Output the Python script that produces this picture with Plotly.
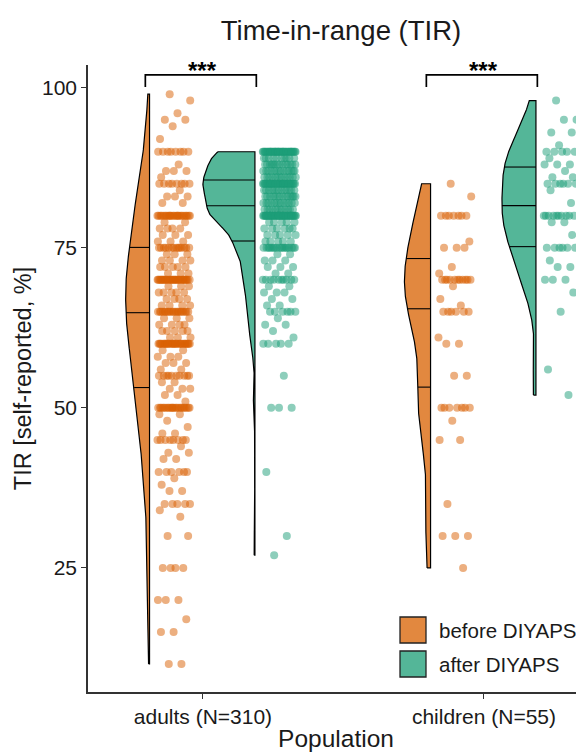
import numpy as np
import plotly.graph_objects as go

# ---------------- data ----------------
groups = ["adults (N=310)", "children (N=55)"]
conditions = ["before DIYAPS", "after DIYAPS"]

adults_before_values = [99, 98, 96, 95, 94, 92, 90, 88, 87, 86, 85, 84, 83, 82, 80, 79, 78, 77, 76, 75,
                        74, 73, 72, 71, 70, 69, 68, 67, 66, 65, 64, 63, 62, 61, 60, 59, 58, 57, 56, 55,
                        54, 53, 52, 51, 50, 49, 48, 47, 46, 45, 44, 43, 42, 40, 39, 38, 37, 35, 34, 33,
                        30, 25, 20, 17, 15, 10]
adults_before_counts = [1, 1, 1, 2, 1, 1, 8, 1, 3, 1, 8, 1, 3, 2, 24, 2, 4, 3, 3, 14,
                        3, 4, 5, 3, 31, 3, 5, 4, 4, 20, 3, 4, 5, 3, 29, 2, 3, 3, 2, 10,
                        2, 3, 2, 1, 22, 2, 1, 1, 2, 8, 1, 2, 2, 6, 1, 1, 2, 5, 1, 1,
                        2, 4, 3, 1, 2, 2]

adults_after_values = [90, 89, 88, 87, 86, 85, 84, 83, 82, 81, 80, 79, 78, 77, 76, 75, 74, 73, 72, 71,
                       70, 69, 68, 67, 66, 65, 64, 63, 62, 61, 60, 55, 50, 40, 30, 27]
adults_after_counts = [40, 10, 14, 14, 13, 36, 13, 14, 13, 12, 40, 5, 6, 5, 5, 18, 2, 3, 3, 2,
                       10, 2, 3, 2, 2, 6, 1, 2, 1, 1, 5, 1, 3, 1, 1, 1]

children_before_values = [85, 83, 80, 76, 75, 72, 71, 70, 69, 67, 66, 65, 61, 60, 55, 50, 48, 45, 35, 30, 25]
children_before_counts = [1, 1, 7, 1, 3, 1, 1, 11, 1, 1, 1, 6, 1, 2, 2, 7, 1, 2, 1, 3, 1]

children_after_values = [98, 95, 93, 91, 90, 89, 88, 87, 86, 85, 84, 82, 80, 79, 77, 75, 73, 72, 70, 68, 65, 56, 52]
children_after_counts = [1, 2, 2, 1, 5, 1, 3, 1, 2, 6, 1, 1, 10, 2, 1, 6, 1, 2, 3, 1, 1, 1, 1]

y_ticks = [25, 50, 75, 100]
significance = ["***", "***"]

# ---------------- style ----------------
OFF = 8                      # page body margin of the browser
W, H = 584 - OFF, 753 - OFF
L, R, T, B = 88 - OFF, 0, 65 - OFF, 753 - 692
X_RANGE = [0.591, 2.356]
Y_RANGE = [5.625, 103.55]
FONT = "Liberation Sans, Arial, Helvetica, sans-serif"
TXT = "#1a1a1a"
AX = "#333333"
fill_cols = {"before DIYAPS": "#E2883F", "after DIYAPS": "#54B698"}
pt_cols = {"before DIYAPS": "rgba(217,95,2,0.5)", "after DIYAPS": "rgba(27,158,119,0.5)"}
edge_off = {"before DIYAPS": -0.19, "after DIYAPS": 0.185}
half_w = {("adults (N=310)", "before DIYAPS"): 0.085, ("adults (N=310)", "after DIYAPS"): 0.185,
          ("children (N=55)", "before DIYAPS"): 0.093, ("children (N=55)", "after DIYAPS"): 0.121}

data = {
    ("adults (N=310)", "before DIYAPS"): np.repeat(adults_before_values, adults_before_counts).astype(float),
    ("adults (N=310)", "after DIYAPS"): np.repeat(adults_after_values, adults_after_counts).astype(float),
    ("children (N=55)", "before DIYAPS"): np.repeat(children_before_values, children_before_counts).astype(float),
    ("children (N=55)", "after DIYAPS"): np.repeat(children_after_values, children_after_counts).astype(float),
}


def kde(vals, n=512):
    vals = np.asarray(vals)
    sd = vals.std(ddof=1)
    iqr = np.subtract(*np.percentile(vals, [75, 25]))
    lo = min(sd, iqr / 1.34) if iqr > 0 else sd
    bw = 0.9 * lo * len(vals) ** (-0.2)
    grid = np.linspace(vals.min(), vals.max(), n)
    d = np.exp(-0.5 * ((grid[:, None] - vals[None, :]) / bw) ** 2).sum(axis=1)
    d /= len(vals) * bw * np.sqrt(2 * np.pi)
    return grid, d


fig = go.Figure()
golden = 0.6180339887

for gi, g in enumerate(groups):
    c = gi + 1
    for cond in conditions:
        vals = data[(g, cond)]
        edge = c + edge_off[cond]
        grid, d = kde(vals)
        w = half_w[(g, cond)] * d / d.max()
        xs = np.concatenate([edge - w, [edge, edge], [edge - w[0]]])
        ys = np.concatenate([grid, [grid[-1], grid[0]], [grid[0]]])
        fig.add_trace(go.Scatter(x=xs, y=ys, mode="lines", fill="toself",
                                 fillcolor=fill_cols[cond],
                                 line=dict(color="black", width=1.2),
                                 hoverinfo="skip", showlegend=False))
        ecdf = np.cumsum(d) / d.sum()
        qx, qy = [], []
        for p in (0.25, 0.5, 0.75):
            q = np.interp(p, ecdf, grid)
            wq = np.interp(q, grid, w)
            qx += [edge - wq, edge, None]
            qy += [q, q, None]
        fig.add_trace(go.Scatter(x=qx, y=qy, mode="lines",
                                 line=dict(color="black", width=1.1),
                                 hoverinfo="skip", showlegend=False))
        idx = np.arange(len(vals))
        u = (idx * golden + 0.37) % 1.0
        px = edge + 0.028 + 0.118 * u
        fig.add_trace(go.Scatter(x=px, y=vals, mode="markers",
                                 marker=dict(size=8, color=pt_cols[cond], line=dict(width=0)),
                                 hoverinfo="skip", showlegend=False))

    xl, xr = c - 0.205, c + 0.19
    fig.add_trace(go.Scatter(x=[xl, xl, xr, xr], y=[100.1, 102, 102, 100.1], mode="lines",
                             line=dict(color="black", width=1.7), hoverinfo="skip",
                             showlegend=False, cliponaxis=False))
    fig.add_annotation(x=c, y=102.7, text="<b>" + significance[gi] + "</b>", showarrow=False,
                       font=dict(size=24, color="black", family=FONT), yanchor="middle")


def pxx(p):  # screen px -> paper x
    return (p - OFF - L) / (W - L - R)


def pxy(p):  # screen px -> paper y
    return (H - B - (p - OFF)) / (H - T - B)


for i, cond in enumerate(conditions):
    top = 617 + i * 34
    fig.add_shape(type="rect", xref="paper", yref="paper",
                  x0=pxx(400), x1=pxx(426), y0=pxy(top + 26), y1=pxy(top),
                  fillcolor=fill_cols[cond], line=dict(color="#222222", width=1.3))
    fig.add_annotation(xref="paper", yref="paper", x=pxx(437), y=pxy(top + 13),
                       text=cond, showarrow=False, xanchor="left", yanchor="middle",
                       font=dict(size=20.5, color=TXT, family=FONT))

fig.update_layout(
    width=W, height=H,
    margin=dict(l=L, r=R, t=T, b=B, autoexpand=False),
    plot_bgcolor="white", paper_bgcolor="white",
    showlegend=False,
    font=dict(family=FONT, color=TXT),
    title=dict(text="Time-in-range (TIR)", x=(341 - OFF) / W, xanchor="center", xref="container",
               y=1 - (30 - OFF) / H, yref="container", yanchor="middle",
               font=dict(size=27.5, color=TXT, family=FONT)),
)
fig.update_xaxes(range=X_RANGE, tickvals=[1, 2], ticktext=groups, ticks="outside",
                 ticklen=5, tickwidth=1.2, tickcolor=AX, showline=True, linecolor=AX,
                 linewidth=1.5, showgrid=False, zeroline=False,
                 tickfont=dict(size=21, color=TXT, family=FONT),
                 title=dict(text="Population", font=dict(size=24.5, color=TXT, family=FONT), standoff=3))
fig.update_yaxes(range=Y_RANGE, tickvals=y_ticks, ticks="outside",
                 ticklen=5, tickwidth=1.2, tickcolor=AX, showline=True, linecolor=AX,
                 linewidth=1.5, showgrid=False, zeroline=False,
                 tickfont=dict(size=21, color=TXT, family=FONT),
                 title=dict(text="TIR [self-reported, %]", font=dict(size=23.5, color=TXT, family=FONT), standoff=4))

fig.write_html("out.html")
